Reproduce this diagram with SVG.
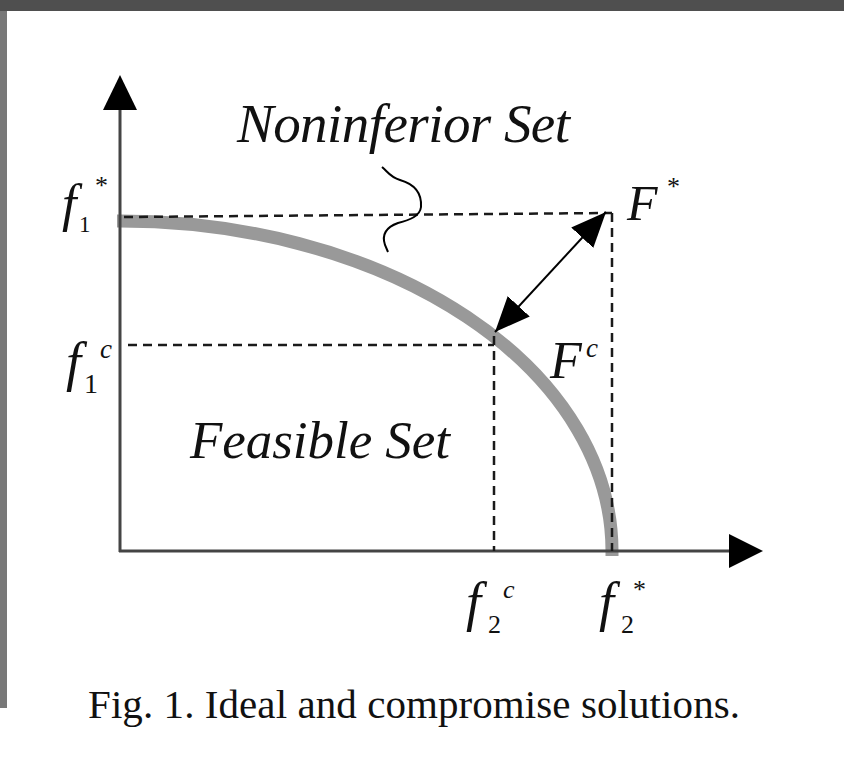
<svg xmlns="http://www.w3.org/2000/svg" width="844" height="777" viewBox="0 0 844 777">
<style>
.it{font-family:"Liberation Serif","Times New Roman",serif;font-style:italic;fill:#111}
.rm{font-family:"Liberation Serif","Times New Roman",serif;fill:#111}
.dash{stroke:#1a1a1a;stroke-width:2.5;stroke-dasharray:9 6;fill:none}
.axis{stroke:#444;stroke-width:3;fill:none}
</style>
<defs>
<marker id="ah" markerUnits="userSpaceOnUse" viewBox="0 -15 35 30" refX="35" refY="0" markerWidth="35" markerHeight="30" orient="auto-start-reverse">
<path d="M0,-15 L35,0 L0,15 z" fill="#000"/>
</marker>
</defs>
<rect x="0" y="0" width="844" height="777" fill="#fff"/>
<rect x="0" y="0" width="844" height="11" fill="#4f4f4f"/>
<rect x="0" y="11" width="7" height="697" fill="#787878"/>

<g id="curve">
<path d="M117,221 A492,330 0 0,1 612,551 L612,556" fill="none" stroke="#999" stroke-width="13"/>
</g>

<g id="connectors">
<line class="axis" x1="120" y1="108" x2="120" y2="552"/>
<polygon points="120,75 103,110 137,110" fill="#000"/>
<line class="axis" x1="119" y1="551" x2="731" y2="551"/>
<polygon points="763,551 729,534 729,568" fill="#000"/>
<line class="dash" x1="124" y1="217" x2="612" y2="213"/>
<line class="dash" x1="612" y1="213" x2="612" y2="551"/>
<line class="dash" x1="128" y1="345" x2="494" y2="345"/>
<line class="dash" x1="494" y1="336" x2="494" y2="551"/>
<line x1="495" y1="332" x2="606" y2="212" stroke="#000" stroke-width="2" marker-start="url(#ah)" marker-end="url(#ah)"/>
<path d="M382,167 C388,172 390,177 400,180 C414,184 422,192 421,207 C420,216 410,220 398,223 C384,228 382,236 385,245 L388,252" fill="none" stroke="#000" stroke-width="2"/>
</g>

<g id="label-noninferior">
<text class="it" x="237" y="142" font-size="55" textLength="333" lengthAdjust="spacing">Noninferior Set</text>
</g>
<g id="label-feasible">
<text class="it" x="190" y="458" font-size="53" textLength="260" lengthAdjust="spacing">Feasible Set</text>
</g>
<g id="label-f1star">
<text class="it" x="62" y="221" font-size="52">f</text>
<text class="rm" x="79" y="232" font-size="23">1</text>
<text class="rm" x="95" y="194" font-size="26">*</text>
</g>
<g id="label-f1c">
<text class="it" x="66" y="380" font-size="54">f</text>
<text class="rm" x="84" y="393" font-size="28">1</text>
<text class="it" x="100" y="358" font-size="27">c</text>
</g>
<g id="label-f2c">
<text class="it" x="466" y="620" font-size="54">f</text>
<text class="rm" x="488" y="633" font-size="26">2</text>
<text class="it" x="503" y="598" font-size="26">c</text>
</g>
<g id="label-f2star">
<text class="it" x="599" y="620" font-size="54">f</text>
<text class="rm" x="621" y="633" font-size="26">2</text>
<text class="rm" x="633" y="598" font-size="26">*</text>
</g>
<g id="label-Fstar">
<text class="it" x="627" y="220" font-size="50">F</text>
<text class="rm" x="667" y="195" font-size="26">*</text>
</g>
<g id="label-Fc">
<text class="it" x="550" y="378" font-size="52">F</text>
<text class="it" x="586" y="357" font-size="27">c</text>
</g>
<g id="caption">
<text class="rm" x="88" y="718" font-size="41" textLength="652" lengthAdjust="spacing">Fig.  1. Ideal and compromise solutions.</text>
</g>
</svg>
